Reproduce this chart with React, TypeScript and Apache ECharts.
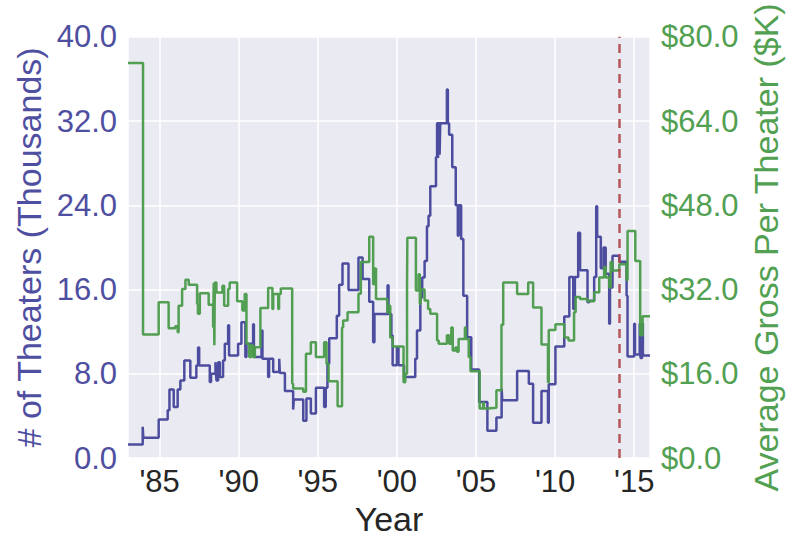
import React, { useEffect, useRef } from "react";
import * as echarts from "echarts";

// Number of theaters (thousands), step series: value holds from each year until the next
const theaterYears = [
  1983.0, 1983.93, 1983.97, 1984.94, 1985.51, 1985.62, 1985.89, 1986.14, 1986.31, 1986.56,
  1986.94, 1987.32, 1987.43, 1987.5, 1988.17, 1988.25, 1988.53, 1988.55, 1988.59, 1988.7,
  1988.81, 1989.01, 1989.12, 1989.33, 1989.39, 1989.96, 1990.17, 1990.42, 1990.49, 1990.91,
  1990.96, 1991.44, 1991.5, 1991.86, 1991.92, 1992.18, 1992.56, 1992.6, 1992.92, 1993.44,
  1993.48, 1994.08, 1994.28, 1994.56, 1994.88, 1995.4, 1995.5, 1995.61, 1995.72, 1996.2,
  1996.35, 1996.56, 1996.94, 1997.57, 1997.83, 1998.25, 1998.5, 1998.58, 1999.41, 1999.47,
  1999.65, 1999.73, 2000.0, 2000.1, 2000.45, 2001.16, 2001.27, 2001.48, 2001.6, 2001.75,
  2001.9, 2002.0, 2002.11, 2002.47, 2002.54, 2002.6, 2002.64, 2002.7, 2002.74, 2003.16,
  2003.22, 2003.3, 2003.5, 2003.72, 2003.85, 2003.9, 2004.06, 2004.2, 2004.44, 2004.7,
  2005.2, 2005.72, 2006.29, 2006.62, 2006.66, 2007.6, 2008.34, 2008.61, 2009.14, 2009.55,
  2009.6, 2010.02, 2010.58, 2010.9, 2011.15, 2011.25, 2011.46, 2011.58, 2012.05, 2012.16,
  2012.47, 2012.6, 2012.66, 2012.89, 2013.06, 2013.2, 2013.42, 2013.47, 2013.63, 2014.06,
  2014.52, 2014.58, 2015.0, 2015.05, 2015.35, 2015.4, 2015.5, 2015.55, 2016.0,
];
const theaterValues = [
  1.29, 2.96, 1.92, 3.66, 4.54, 6.5, 4.85, 6.5, 7.37, 9.27,
  7.63, 8.79, 10.5, 8.79, 7.21, 8.0, 9.1, 8.64, 7.37, 9.1,
  7.7, 9.27, 10.84, 12.6, 9.74, 10.84, 12.89, 9.58, 10.84, 12.7,
  9.58, 12.1, 9.42, 7.7, 9.42, 8.16, 9.42, 8.07, 6.36, 4.6,
  5.55, 3.53, 5.64, 4.22, 6.68, 4.85, 6.68, 8.96, 11.38, 13.5,
  16.45, 18.47, 15.95, 19.04, 17.0, 14.85, 11.0, 13.68, 16.4, 13.68,
  11.63, 8.8, 10.5, 8.8, 7.69, 9.43, 12.1, 15.25, 17.14, 18.72,
  22.0, 23.0, 25.8, 28.56, 31.8, 28.5, 31.8, 28.8, 31.8, 35.0,
  31.8, 30.7, 27.6, 24.0, 21.1, 24.0, 20.8, 15.4, 11.47, 8.4,
  5.32, 2.58, 3.85, 6.6, 5.48, 8.26, 7.06, 3.34, 6.37, 3.34,
  7.0, 10.6, 13.43, 17.2, 14.15, 17.2, 21.4, 17.84, 14.78, 14.94,
  17.2, 23.9, 21.0, 18.03, 20.0, 17.5, 12.74, 16.2, 19.2, 18.63,
  15.4, 9.65, 12.76, 9.83, 12.76, 9.5, 12.76, 9.74, 9.74,
];

// Average gross per theater ($K), step series
const grossYears = [
  1983.0, 1983.95, 1984.94, 1985.57, 1985.99, 1986.14, 1986.2, 1986.42, 1986.63, 1986.84,
  1987.37, 1987.42, 1987.54, 1988.1, 1988.38, 1988.42, 1988.46, 1988.49, 1988.59, 1988.97,
  1989.08, 1989.33, 1989.43, 1989.9, 1990.23, 1990.38, 1990.49, 1990.66, 1990.8, 1990.91,
  1991.02, 1991.37, 1991.86, 1992.13, 1992.18, 1992.5, 1992.55, 1992.66, 1993.38, 1993.44,
  1994.08, 1994.25, 1994.56, 1994.88, 1995.4, 1995.55, 1995.68, 1996.25, 1996.53, 1996.6,
  1996.88, 1997.57, 1997.72, 1998.25, 1998.5, 1998.55, 1998.68, 1999.4, 1999.44, 1999.58,
  1999.73, 2000.42, 2000.53, 2000.64, 2000.66, 2001.2, 2001.37, 2001.45, 2001.5, 2001.75,
  2001.97, 2002.11, 2002.54, 2002.64, 2003.16, 2003.3, 2003.44, 2003.53, 2003.7, 2003.8,
  2003.9, 2004.3, 2004.35, 2004.54, 2004.65, 2005.23, 2005.45, 2005.5, 2005.72, 2006.29,
  2006.61, 2006.72, 2007.6, 2008.3, 2008.61, 2009.14, 2009.55, 2009.6, 2010.02, 2010.58,
  2010.85, 2011.2, 2011.3, 2011.58, 2012.05, 2012.47, 2012.68, 2012.79, 2013.1, 2013.2,
  2013.42, 2013.51, 2013.63, 2014.06, 2014.52, 2014.58, 2015.07, 2015.38, 2015.53, 2016.0,
];
const grossValues = [
  75.0, 23.45, 29.56, 24.65, 25.0, 23.9, 28.9, 32.1, 33.85, 32.9,
  29.25, 27.4, 31.3, 29.1, 24.8, 33.3, 21.4, 33.35, 31.45, 32.7,
  28.9, 32.1, 33.35, 29.75, 28.0, 31.15, 21.7, 19.2, 21.4, 19.2,
  21.05, 28.5, 32.3, 28.3, 31.15, 28.3, 31.15, 32.2, 14.1, 13.2,
  12.6, 19.8, 22.0, 19.16, 22.0, 17.9, 14.6, 9.83, 24.8, 26.1,
  27.7, 31.2, 37.25, 42.0, 33.0, 36.0, 30.2, 27.4, 28.9, 22.9,
  21.2, 14.4, 16.0, 32.4, 41.85, 31.8, 34.9, 29.3, 32.0, 29.9,
  28.3, 27.4, 22.3, 21.7, 23.3, 21.7, 24.8, 20.4, 21.0, 20.2,
  22.6, 24.8, 22.6, 19.16, 16.5, 9.4, 10.5, 9.4, 9.53, 12.86,
  25.3, 33.35, 31.15, 33.35, 28.6, 21.56, 14.4, 24.3, 25.4, 22.9,
  22.3, 27.7, 30.6, 30.2, 29.75, 31.5, 31.45, 34.3, 36.3, 34.3,
  32.4, 37.25, 35.6, 36.8, 33.8, 43.1, 37.4, 23.3, 26.9, 26.9,
];

const xTickYears = [1985, 1990, 1995, 2000, 2005, 2010, 2015];
const xTickLabels = ["'85", "'90", "'95", "'00", "'05", "'10", "'15"];
const markerYear = 2014.05;

const BLUE = "#45459b";
const BLUE_TEXT = "#4f4fa1";
const GREEN = "#4a9b4a";
const GREEN_TEXT = "#52a052";
const RED = "#b0474a";
const FONT = "'Liberation Sans', Arial, sans-serif";

export default function App() {
  const ref = useRef<HTMLDivElement>(null);

  useEffect(() => {
    if (!ref.current) return;
    const chart = echarts.init(ref.current, undefined, { renderer: "svg" });
    const theaterData = theaterYears.map((y, i) => [y, theaterValues[i]]);
    const grossData = grossYears.map((y, i) => [y, grossValues[i]]);

    chart.setOption({
      animation: false,
      backgroundColor: "#ffffff",
      textStyle: { fontFamily: FONT },
      grid: {
        left: 128,
        right: 150,
        top: 35,
        bottom: 92,
        show: true,
        backgroundColor: "#EAEAF2",
        borderWidth: 0,
      },
      xAxis: {
        type: "value",
        min: 1983,
        max: 2016,
        name: "Year",
        nameLocation: "middle",
        nameGap: 39,
        nameTextStyle: { color: "#262626", fontSize: 34, fontFamily: FONT },
        axisLine: { show: false },
        axisTick: { show: false },
        axisLabel: {
          color: "#262626",
          fontSize: 31,
          fontFamily: FONT,
          margin: 8,
          showMinLabel: false,
          showMaxLabel: false,
          formatter: (v: number) => {
            const i = xTickYears.indexOf(Math.round(v));
            return i >= 0 && Math.abs(v - xTickYears[i]) < 1e-6 ? xTickLabels[i] : "";
          },
        },
        splitLine: { show: true, lineStyle: { color: "#ffffff", width: 1.5 } },
      },
      yAxis: [
        {
          type: "value",
          min: 0,
          max: 40,
          interval: 8,
          position: "left",
          name: "# of Theaters (Thousands)",
          nameLocation: "middle",
          nameRotate: 90,
          nameGap: 82,
          nameTextStyle: { color: BLUE_TEXT, fontSize: 34, fontFamily: FONT },
          axisLine: { show: false },
          axisTick: { show: false },
          axisLabel: {
            color: BLUE_TEXT,
            fontSize: 31,
            fontFamily: FONT,
            margin: 11,
            formatter: (v: number) => v.toFixed(1),
          },
          splitLine: { show: true, lineStyle: { color: "#ffffff", width: 1.5 } },
        },
        {
          type: "value",
          min: 0,
          max: 80,
          interval: 16,
          position: "right",
          name: "Average Gross Per Theater ($K)",
          nameLocation: "middle",
          nameRotate: 90,
          nameGap: 96,
          nameTextStyle: { color: GREEN_TEXT, fontSize: 34, fontFamily: FONT },
          axisLine: { show: false },
          axisTick: { show: false },
          axisLabel: {
            color: GREEN_TEXT,
            fontSize: 31,
            fontFamily: FONT,
            margin: 11,
            formatter: (v: number) => "$" + v.toFixed(1),
          },
          splitLine: { show: false },
        },
      ],
      series: [
        {
          name: "Theaters",
          type: "line",
          step: "end",
          yAxisIndex: 0,
          data: theaterData,
          showSymbol: false,
          symbol: "none",
          lineStyle: { color: BLUE, width: 2.5, opacity: 0.95 },
          z: 2,
        },
        {
          name: "Gross",
          type: "line",
          step: "end",
          yAxisIndex: 1,
          data: grossData,
          showSymbol: false,
          symbol: "none",
          lineStyle: { color: GREEN, width: 2.5, opacity: 0.95 },
          z: 3,
          markLine: {
            silent: true,
            symbol: "none",
            label: { show: false },
            lineStyle: { color: RED, width: 2.5, type: [9, 6], opacity: 0.9 },
            data: [{ xAxis: markerYear }],
          },
        },
      ],
    });

    return () => {
      chart.dispose();
    };
  }, []);

  return (
    <div
      ref={ref}
      style={{ position: "fixed", left: 0, top: 0, width: 800, height: 550, background: "#fff" }}
    />
  );
}
